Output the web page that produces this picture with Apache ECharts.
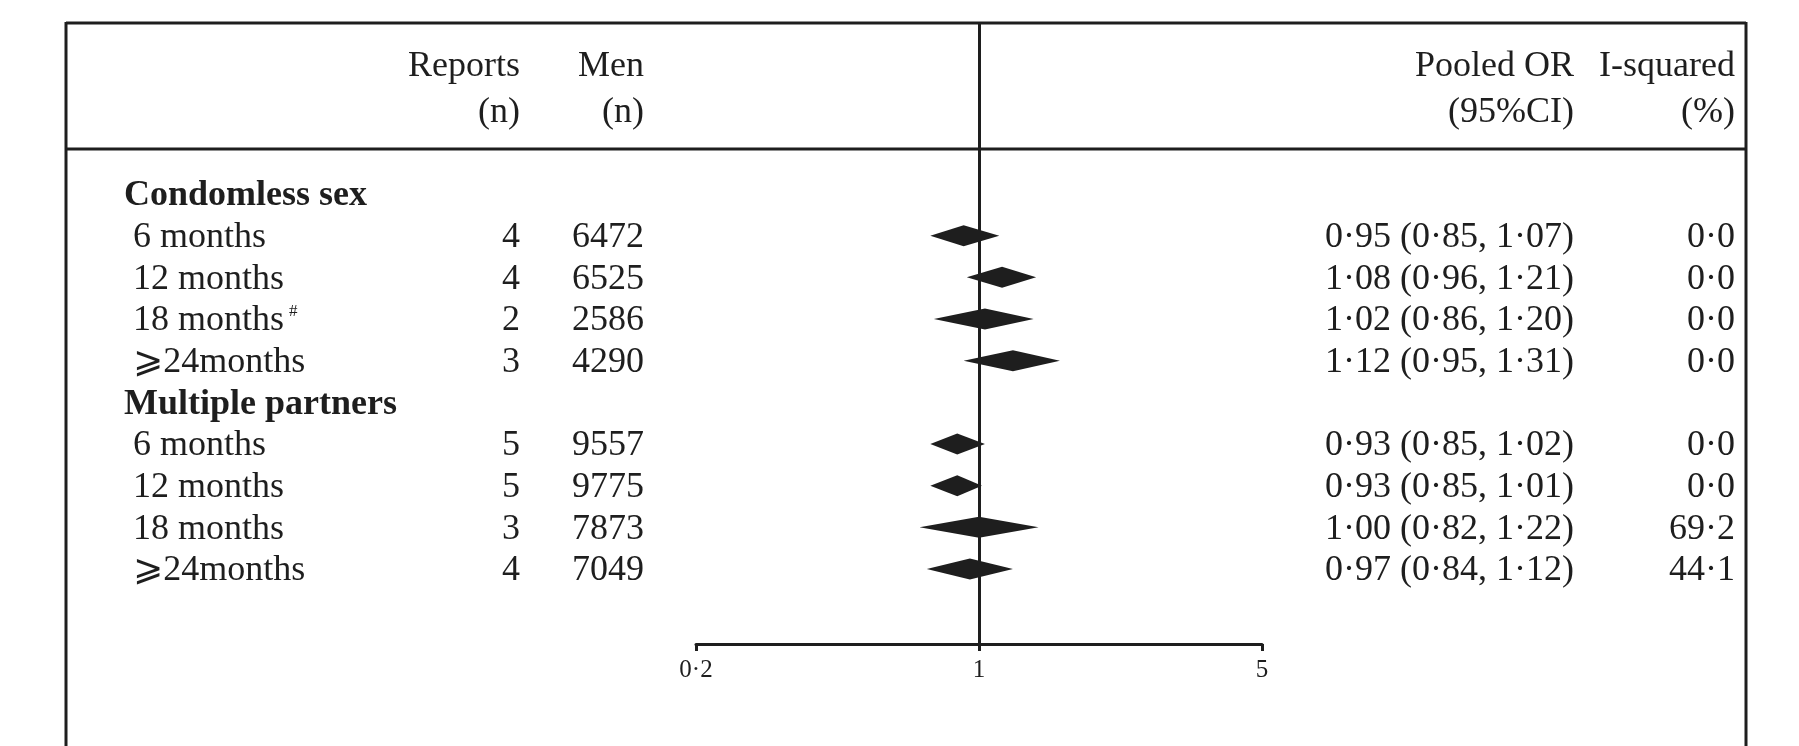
<!DOCTYPE html>
<html>
<head>
<meta charset="utf-8">
<script src="https://cdn.jsdelivr.net/npm/echarts@6/dist/echarts.min.js"></script>
<style>
  html, body { margin: 0; padding: 0; background: #fff; }
  #main { width: 1799px; height: 746px; }
</style>
</head>
<body>
<div id="main"></div>
<script>
// data
var groups = ['Condomless sex', 'Multiple partners'];
var periods = ['6 months', '12 months', '18 months#', '⩾24months', '6 months', '12 months', '18 months', '⩾24months'];
var groupOf = [0, 0, 0, 0, 1, 1, 1, 1];
var reports = [4, 4, 2, 3, 5, 5, 3, 4];
var men = [6472, 6525, 2586, 4290, 9557, 9775, 7873, 7049];
var pooledOR = [0.95, 1.08, 1.02, 1.12, 0.93, 0.93, 1.00, 0.97];
var ciLow = [0.85, 0.96, 0.86, 0.95, 0.85, 0.85, 0.82, 0.84];
var ciHigh = [1.07, 1.21, 1.20, 1.31, 1.02, 1.01, 1.22, 1.12];
var iSquared = [0.0, 0.0, 0.0, 0.0, 0.0, 0.0, 69.2, 44.1];
var headTop = ['Reports', 'Men', 'Pooled OR', 'I-squared'];
var headSub = ['(n)', '(n)', '(95%CI)', '(%)'];
var tickValues = [0.2, 1, 5];
var tickLabels = ['0·2', '1', '5'];

var INK = '#1e1e1e';
var FONT = '"Liberation Serif", "Times New Roman", "DejaVu Serif", "DejaVu Sans", serif';
var colRight = [520, 644, 1574, 1735];
var TEXT_DY = 2; // glyphs sit a little high with middle alignment

function dot(v, d) { return v.toFixed(d).replace('.', '·'); }

// lay out rows: a header row per group, then its periods
var rows = [];
var diamonds = [];
var pos = 0, lastGroup = -1;
for (var i = 0; i < periods.length; i++) {
  if (groupOf[i] !== lastGroup) {
    lastGroup = groupOf[i];
    rows.push({ pos: pos, group: groups[lastGroup] });
    pos++;
  }
  rows.push({ pos: pos, idx: i });
  diamonds.push([ciLow[i], pooledOR[i], ciHigh[i], pos]);
  pos++;
}

function txt(x, y, s, align, weight, rich) {
  return {
    type: 'text', x: x, y: y + TEXT_DY,
    style: {
      text: s, fill: INK, fontFamily: FONT, fontSize: 36,
      fontWeight: weight || 'normal', align: align, verticalAlign: 'middle',
      rich: rich
    }
  };
}

var chart = echarts.init(document.getElementById('main'));

var graphics = [
  { type: 'line', shape: { x1: 66, y1: 23, x2: 1746, y2: 23 }, style: { stroke: INK, lineWidth: 3 } },
  { type: 'line', shape: { x1: 66, y1: 149, x2: 1746, y2: 149 }, style: { stroke: INK, lineWidth: 3 } },
  { type: 'line', shape: { x1: 66, y1: 22, x2: 66, y2: 746 }, style: { stroke: INK, lineWidth: 3 } },
  { type: 'line', shape: { x1: 1746, y1: 22, x2: 1746, y2: 746 }, style: { stroke: INK, lineWidth: 3 } }
];
for (var c = 0; c < headTop.length; c++) {
  graphics.push(txt(colRight[c], 65, headTop[c], 'right'));
  graphics.push(txt(colRight[c], 111, headSub[c], 'right'));
}

chart.setOption({
  animation: false,
  backgroundColor: '#fff',
  grid: [
    { left: 289, width: 1380, top: 194, height: 375 },
    { left: 696, width: 566, top: 23, height: 621 }
  ],
  xAxis: [
    { type: 'log', gridIndex: 0, min: 0.1, max: 10, show: false },
    {
      type: 'log', gridIndex: 1, logBase: 5, min: 0.2, max: 5, splitNumber: 2,
      axisLine: { lineStyle: { color: INK, width: 3 } },
      axisTick: { length: 7, lineStyle: { color: INK, width: 3 } },
      splitLine: { show: false },
      axisLabel: {
        margin: 14, color: INK, fontFamily: FONT, fontSize: 25,
        formatter: function (v) {
          for (var k = 0; k < tickValues.length; k++) {
            if (Math.abs(v - tickValues[k]) < 1e-6) return tickLabels[k];
          }
          return '';
        }
      }
    }
  ],
  yAxis: [
    { type: 'value', gridIndex: 0, min: 0, max: 9, inverse: true, show: false },
    { type: 'value', gridIndex: 1, min: 0, max: 1, show: false }
  ],
  graphic: graphics,
  series: [
    {
      type: 'line', xAxisIndex: 1, yAxisIndex: 1, data: [[1, 0.5]], showSymbol: false, silent: true,
      markLine: {
        silent: true, symbol: 'none', label: { show: false },
        lineStyle: { color: INK, width: 3, type: 'solid' },
        data: [{ xAxis: 1 }]
      }
    },
    {
      type: 'custom', xAxisIndex: 0, yAxisIndex: 0, silent: true,
      data: diamonds,
      renderItem: function (params, api) {
        var y = api.value(3);
        var a = api.coord([api.value(0), y]);
        var m = api.coord([api.value(1), y]);
        var b = api.coord([api.value(2), y]);
        var h = 10.5;
        return {
          type: 'polygon',
          shape: { points: [[a[0], a[1]], [m[0], m[1] - h], [b[0], b[1]], [m[0], m[1] + h]] },
          style: { fill: INK }
        };
      }
    },
    {
      type: 'custom', xAxisIndex: 0, yAxisIndex: 0, silent: true,
      data: rows.map(function (r) { return [1, r.pos]; }),
      renderItem: function (params, api) {
        var r = rows[params.dataIndex];
        var y = api.coord([1, r.pos])[1];
        if (r.group) {
          return { type: 'group', children: [txt(124, y, r.group, 'left', 'bold')] };
        }
        var i = r.idx;
        var label = periods[i];
        var rich;
        if (label.indexOf('#') >= 0) {
          label = label.replace('#', '{sup|#}');
          rich = { sup: { fontSize: 17, fontFamily: FONT, fill: INK, verticalAlign: 'top', padding: [0, 0, 0, 5] } };
        }
        return {
          type: 'group',
          children: [
            txt(133, y, label, 'left', 'normal', rich),
            txt(colRight[0], y, String(reports[i]), 'right'),
            txt(colRight[1], y, String(men[i]), 'right'),
            txt(colRight[2], y, dot(pooledOR[i], 2) + ' (' + dot(ciLow[i], 2) + ', ' + dot(ciHigh[i], 2) + ')', 'right'),
            txt(colRight[3], y, dot(iSquared[i], 1), 'right')
          ]
        };
      }
    }
  ]
});
</script>
</body>
</html>
